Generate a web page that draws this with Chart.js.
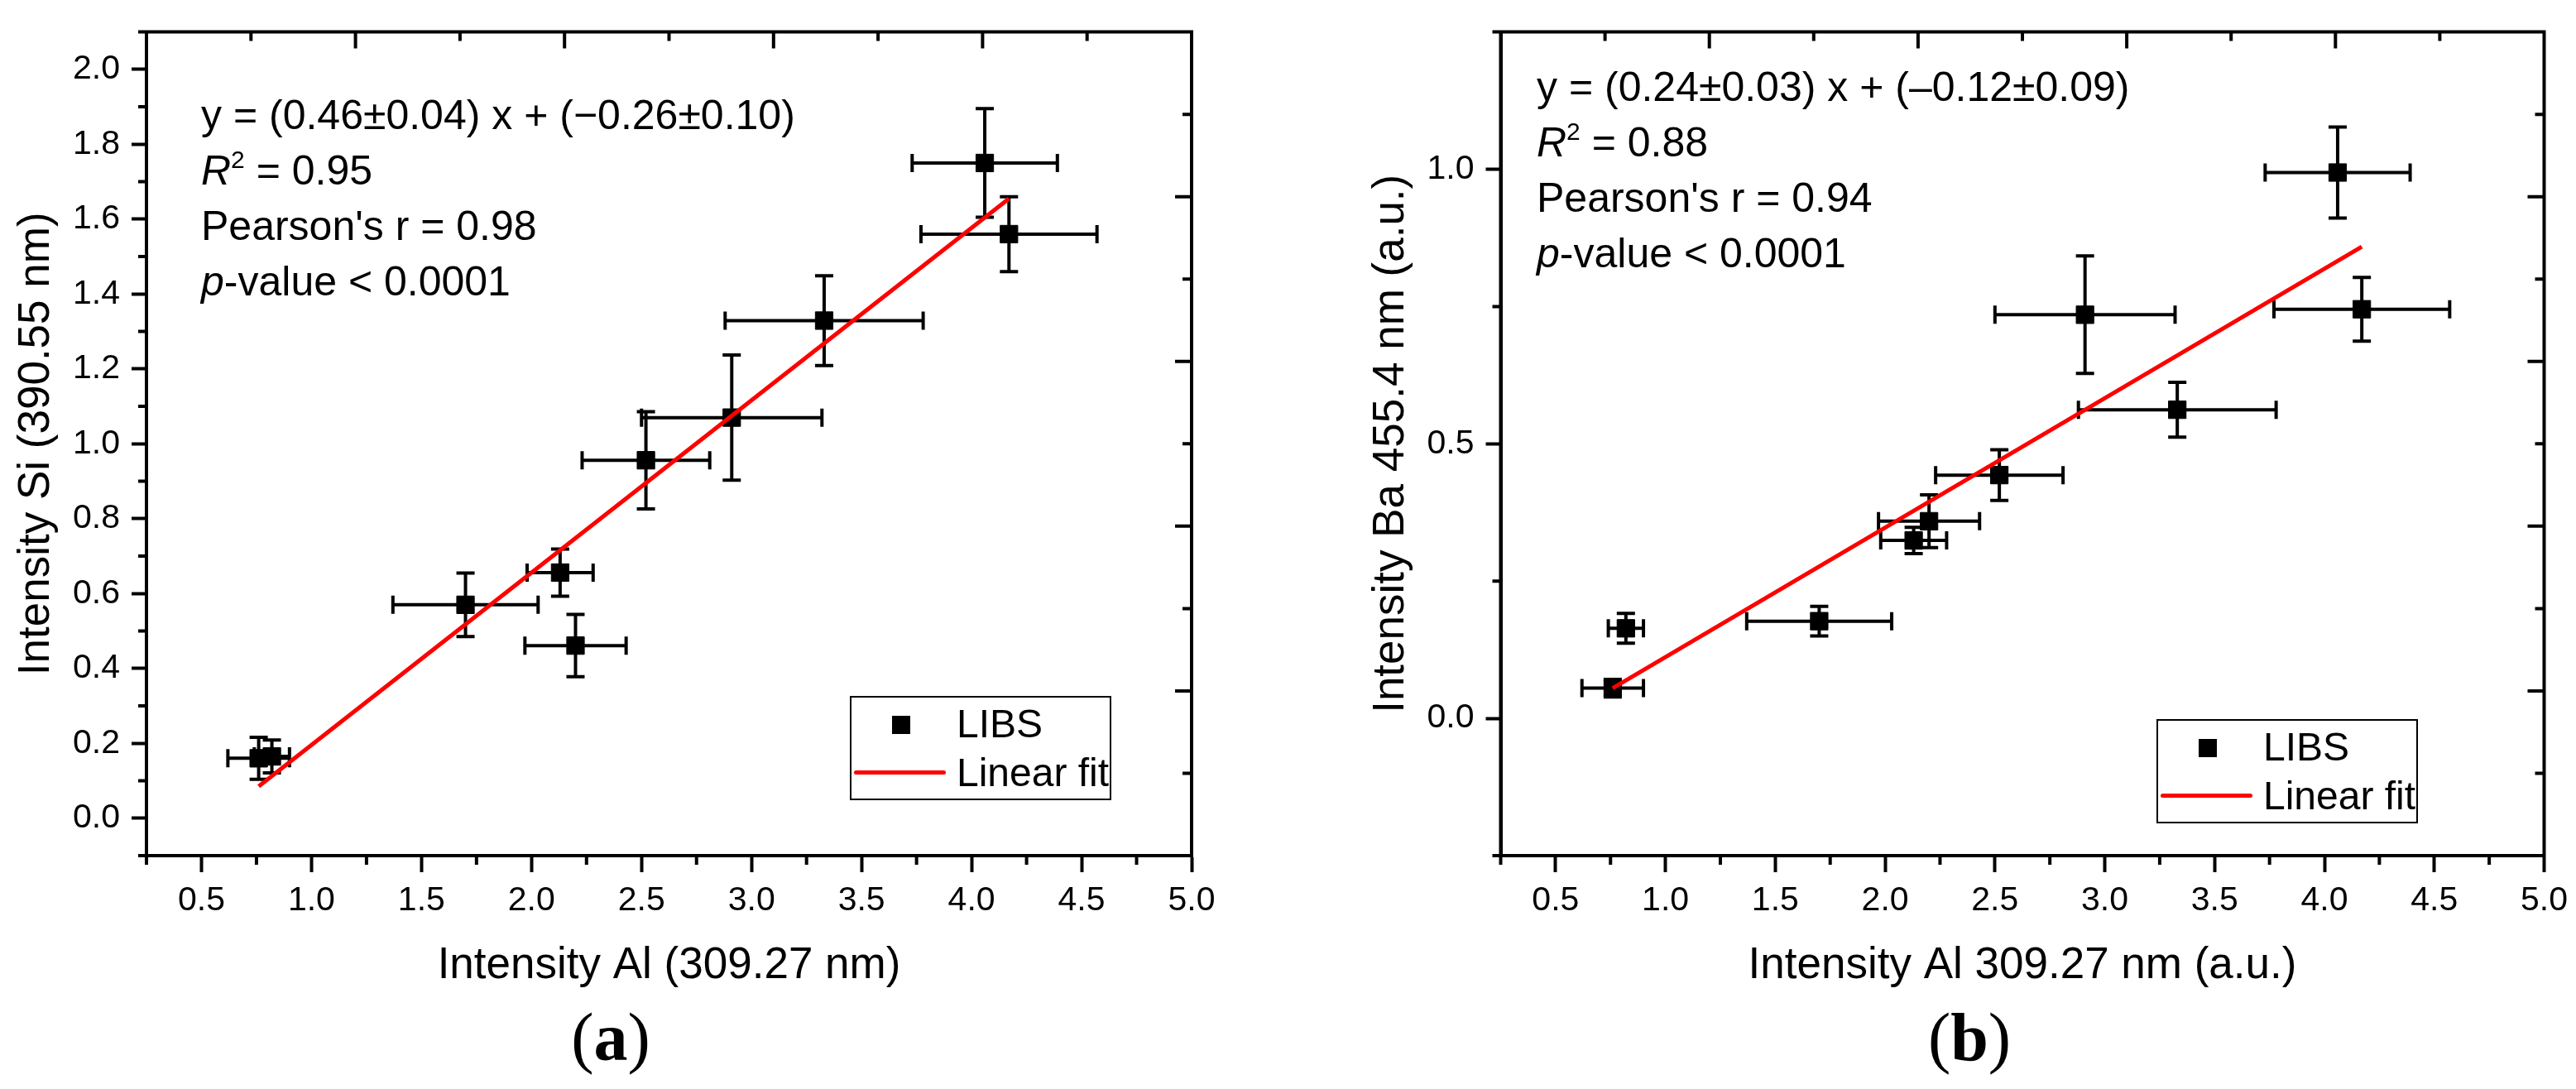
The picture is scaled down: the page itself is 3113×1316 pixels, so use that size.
<!DOCTYPE html>
<html>
<head>
<meta charset="utf-8">
<script src="https://cdn.jsdelivr.net/npm/chart.js@4.4.1/dist/chart.umd.min.js"></script>
<style>
  html, body { margin: 0; padding: 0; background: #fff; }
  body { width: 3113px; height: 1316px; position: relative; overflow: hidden;
         font-family: "Liberation Sans", Arial, sans-serif; color: #000; }
  .panel { position: absolute; top: 0; height: 1316px; }
  .stats { position: absolute; font-size: 50px; line-height: 67px; white-space: nowrap; }
  .stats sup { font-size: 30px; line-height: 0; vertical-align: 20px; }
  .legend { position: absolute; width: 312px; height: 122px; border: 2px solid #000; box-sizing: content-box; }
  .legend .mark { position: absolute; left: 49px; top: 22px; width: 22px; height: 22px; background: #000; }
  .legend .fit { position: absolute; left: 3px; top: 88px; width: 111px; height: 5px; background: #f00; border-radius: 3px; }
  .legend .lab { position: absolute; left: 127px; font-size: 48px; line-height: 58px; white-space: nowrap; }
  .tag { position: absolute; font-family: "Liberation Serif", "Times New Roman", serif; font-size: 82px;
         line-height: 82px; width: 200px; text-align: center; }
  .tag b { font-weight: bold; }
</style>
</head>
<body>

<div class="panel" id="panelA" style="left:0; width:1556px;">
  <canvas id="chartA"></canvas>
  <div class="stats" style="left:243px; top:106px;">
    y = (0.46±0.04) x + (−0.26±0.10)<br>
    <i>R</i><sup>2</sup> = 0.95<br>
    Pearson's r = 0.98<br>
    <i>p</i>-value &lt; 0.0001
  </div>
  <div class="legend" style="left:1027px; top:841px;">
    <div class="mark"></div>
    <div class="lab" style="top:3px;">LIBS</div>
    <div class="fit"></div>
    <div class="lab" style="top:62px;">Linear fit</div>
  </div>
  <div class="tag" style="left:638px; top:1213px;">(<b>a</b>)</div>
</div>

<div class="panel" id="panelB" style="left:1556px; width:1557px;">
  <canvas id="chartB"></canvas>
  <div class="stats" style="left:301px; top:72px;">
    y = (0.24±0.03) x + (–0.12±0.09)<br>
    <i>R</i><sup>2</sup> = 0.88<br>
    Pearson's r = 0.94<br>
    <i>p</i>-value &lt; 0.0001
  </div>
  <div class="legend" style="left:1050px; top:869px;">
    <div class="mark"></div>
    <div class="lab" style="top:3px;">LIBS</div>
    <div class="fit"></div>
    <div class="lab" style="top:62px;">Linear fit</div>
  </div>
  <div class="tag" style="left:724px; top:1213px;">(<b>b</b>)</div>
</div>

<script>
// shared x: Al 309.27 nm intensity and its error
const alX    = [0.76, 0.82, 1.70, 2.13, 2.20, 2.52, 2.91, 3.33, 4.06, 4.17];
const alXErr = [0.14, 0.08, 0.33, 0.15, 0.23, 0.29, 0.41, 0.45, 0.33, 0.40];

// panel a: Si 390.55 nm
const siY    = [0.160, 0.165, 0.570, 0.656, 0.461, 0.956, 1.070, 1.329, 1.750, 1.560];
const siYErr = [0.056, 0.044, 0.085, 0.063, 0.083, 0.130, 0.167, 0.120, 0.145, 0.100];
const siFitX = [0.76, 4.17];
const siFitY = [0.085, 1.655];

// panel b: Ba 455.4 nm
const baY    = [0.055, 0.164, 0.177, 0.324, 0.359, 0.443, 0.735, 0.562, 0.994, 0.745];
const baYErr = [0.016, 0.027, 0.027, 0.024, 0.048, 0.046, 0.107, 0.050, 0.083, 0.058];
const baFitX = [0.76, 4.17];
const baFitY = [0.055, 0.859];

// tick labels
const xTicks      = [0.5, 1.0, 1.5, 2.0, 2.5, 3.0, 3.5, 4.0, 4.5, 5.0];
const xMinorTicks = [0.25, 0.75, 1.25, 1.75, 2.25, 2.75, 3.25, 3.75, 4.25, 4.75];
const siTicks      = [0.0, 0.2, 0.4, 0.6, 0.8, 1.0, 1.2, 1.4, 1.6, 1.8, 2.0];
const siMinorTicks = [-0.1, 0.1, 0.3, 0.5, 0.7, 0.9, 1.1, 1.3, 1.5, 1.7, 1.9, 2.1];
const baTicks      = [0.0, 0.5, 1.0];
const baMinorTicks = [-0.25, 0.25, 0.75, 1.25];

const FONT = "'Liberation Sans', Arial, sans-serif";

// error bars, drawn under the markers
const errorBars = {
    id: "errorBars",
    beforeDatasetsDraw(chart) {
        const { ctx, scales } = chart;
        const ds = chart.data.datasets[1];
        const cap = 11;
        ctx.save();
        ctx.strokeStyle = "#000";
        ctx.lineWidth = 4;
        ctx.beginPath();
        ds.data.forEach(p => {
            const px = scales.x.getPixelForValue(p.x);
            const py = scales.y.getPixelForValue(p.y);
            const xl = scales.x.getPixelForValue(p.x - p.xErr);
            const xr = scales.x.getPixelForValue(p.x + p.xErr);
            const yt = scales.y.getPixelForValue(p.y + p.yErr);
            const yb = scales.y.getPixelForValue(p.y - p.yErr);
            ctx.moveTo(xl, py); ctx.lineTo(xr, py);
            ctx.moveTo(xl, py - cap); ctx.lineTo(xl, py + cap);
            ctx.moveTo(xr, py - cap); ctx.lineTo(xr, py + cap);
            ctx.moveTo(px, yt); ctx.lineTo(px, yb);
            ctx.moveTo(px - cap, yt); ctx.lineTo(px + cap, yt);
            ctx.moveTo(px - cap, yb); ctx.lineTo(px + cap, yb);
        });
        ctx.stroke();
        ctx.restore();
    }
};

// top/right frame, minor ticks, inward ticks on the opposite axes
const frameTicks = {
    id: "frameTicks",
    afterDraw(chart, args, opts) {
        const { ctx, chartArea: a, scales } = chart;
        ctx.save();
        ctx.strokeStyle = "#000";
        ctx.lineWidth = 4;
        ctx.beginPath();
        ctx.moveTo(a.left - 2, a.top); ctx.lineTo(a.right + 2, a.top);
        ctx.moveTo(a.right, a.top); ctx.lineTo(a.right, a.bottom + 2);
        ctx.moveTo(a.left, a.top - 2); ctx.lineTo(a.left, a.bottom + 2);
        xMinorTicks.forEach(v => {
            const px = scales.x.getPixelForValue(v);
            ctx.moveTo(px, a.bottom); ctx.lineTo(px, a.bottom + 11);
        });
        opts.yMinor.forEach(v => {
            const py = scales.y.getPixelForValue(v);
            ctx.moveTo(a.left, py); ctx.lineTo(a.left - 10, py);
        });
        for (let i = 1; i < 10; i++) {
            const len = i % 2 ? 11 : 20;
            const px = scales.xTop.getPixelForValue(i);
            ctx.moveTo(px, a.top); ctx.lineTo(px, a.top + len);
            const py = scales.yRight.getPixelForValue(i);
            ctx.moveTo(a.right, py); ctx.lineTo(a.right - len, py);
        }
        ctx.stroke();
        ctx.restore();
    }
};

function points(ys, yErr) {
    return alX.map((x, i) => ({ x: x, y: ys[i], xErr: alXErr[i], yErr: yErr[i] }));
}

function fitLine(xs, ys) {
    return xs.map((x, i) => ({ x: x, y: ys[i] }));
}

function makeChart(id, cfg) {
    const ctx = document.getElementById(id).getContext("2d");
    return new Chart(ctx, {
        type: "scatter",
        data: {
            datasets: [
                {
                    label: "Linear fit",
                    data: fitLine(cfg.fitX, cfg.fitY),
                    showLine: true,
                    borderColor: "#ff0000",
                    borderWidth: 5,
                    pointRadius: 0,
                    order: 0
                },
                {
                    label: "LIBS",
                    data: points(cfg.ys, cfg.yErr),
                    pointStyle: "rect",
                    pointRadius: 15,
                    backgroundColor: "#000",
                    borderColor: "#000",
                    borderWidth: 1,
                    order: 1
                }
            ]
        },
        options: {
            responsive: true,
            maintainAspectRatio: false,
            animation: false,
            events: [],
            layout: { padding: cfg.padding },
            plugins: {
                legend: { display: false },
                tooltip: { enabled: false },
                frameTicks: { yMinor: cfg.yMinor }
            },
            scales: {
                x: {
                    type: "linear",
                    position: "bottom",
                    min: 0.25,
                    max: 5.0,
                    afterBuildTicks: s => { s.ticks = xTicks.map(v => ({ value: v })); },
                    afterFit: s => { s.height = 160; },
                    ticks: {
                        autoSkip: false,
                        maxRotation: 0,
                        padding: 10,
                        color: "#000",
                        font: { family: FONT, size: 41 },
                        callback: v => v.toFixed(1)
                    },
                    grid: {
                        drawOnChartArea: false,
                        tickLength: 20,
                        tickWidth: 4,
                        tickColor: "#000"
                    },
                    border: { display: true, width: 4, color: "#000" },
                    title: {
                        display: true,
                        text: cfg.xTitle,
                        color: "#000",
                        padding: { top: 0, bottom: 0 },
                        font: { family: FONT, size: 53, lineHeight: 1 }
                    }
                },
                y: {
                    type: "linear",
                    position: "left",
                    min: cfg.yMin,
                    max: cfg.yMax,
                    afterBuildTicks: s => { s.ticks = cfg.yTicks.map(v => ({ value: v })); },
                    afterFit: s => { s.width = 177; },
                    ticks: {
                        autoSkip: false,
                        padding: 14,
                        color: "#000",
                        font: { family: FONT, size: 41 },
                        callback: v => v.toFixed(1)
                    },
                    grid: {
                        drawOnChartArea: false,
                        tickLength: 18,
                        tickWidth: 4,
                        tickColor: "#000"
                    },
                    border: { display: true, width: 4, color: "#000" },
                    title: {
                        display: true,
                        text: cfg.yTitle,
                        color: "#000",
                        padding: { top: 18, bottom: 0 },
                        font: { family: FONT, size: 53, lineHeight: 1 }
                    }
                },
                xTop: { type: "linear", position: "top", min: 0, max: 10, display: false },
                yRight: { type: "linear", position: "right", min: 0, max: 10, display: false }
            }
        },
        plugins: [errorBars, frameTicks]
    });
}

makeChart("chartA", {
    ys: siY, yErr: siYErr, fitX: siFitX, fitY: siFitY,
    yMin: -0.1, yMax: 2.1, yTicks: siTicks, yMinor: siMinorTicks,
    xTitle: "Intensity Al (309.27 nm)",
    yTitle: "Intensity Si (390.55 nm)",
    padding: { top: 18.6, right: 116, bottom: 122, left: 0 }
});

makeChart("chartB", {
    ys: baY, yErr: baYErr, fitX: baFitX, fitY: baFitY,
    yMin: -0.25, yMax: 1.25, yTicks: baTicks, yMinor: baMinorTicks,
    xTitle: "Intensity Al 309.27 nm (a.u.)",
    yTitle: "Intensity Ba 455.4 nm (a.u.)",
    padding: { top: 18.6, right: 36, bottom: 122, left: 80.5 }
});
</script>
</body>
</html>
